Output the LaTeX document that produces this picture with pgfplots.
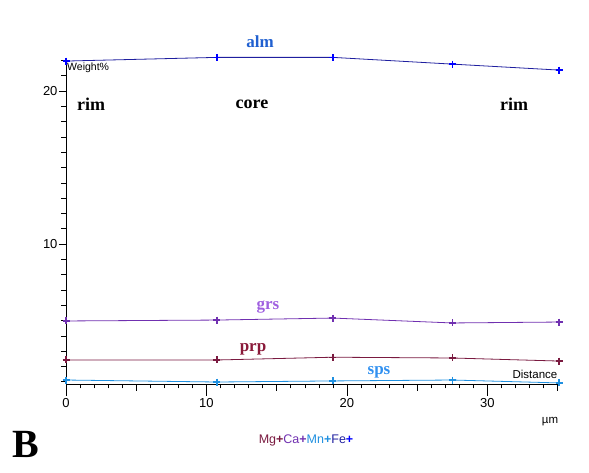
\documentclass[border=0pt]{standalone}
\usepackage{fontspec}
\setmainfont{Liberation Serif}
\setsansfont{Liberation Sans}
\usepackage{pgfplots}
\pgfplotsset{compat=1.18}

\definecolor{almline}{HTML}{1F1F9F}
\definecolor{almmark}{HTML}{0000FF}
\definecolor{almtext}{HTML}{2060D0}
\definecolor{grsline}{HTML}{7030B0}
\definecolor{grstext}{HTML}{A060E0}
\definecolor{prpline}{HTML}{7A1A40}
\definecolor{prptext}{HTML}{8A1A3A}
\definecolor{spsline}{HTML}{2090E0}
\definecolor{spstext}{HTML}{3090F0}

\begin{document}
\begin{tikzpicture}[x=1pt,y=1pt]
  \useasboundingbox (0,0) rectangle (589,473);
  \begin{axis}[
      at={(66pt,89pt)}, anchor=south west,
      scale only axis,
      width=493pt, height=326pt,
      xmin=0, xmax=35.1,
      ymin=0.85, ymax=22.16,
      axis x line*=bottom,
      axis y line*=left,
      axis line style={black, line width=0.6pt, -},
      xtick={5,15,25,35},
      xticklabels={},
      extra x ticks={0,10,20,30},
      extra x tick style={major tick length=12pt},
      minor xtick={1,2,...,35},
      ytick={10,20},
      minor ytick={1,2,...,22},
      major tick length=7pt,
      minor tick length=4.5pt,
      tick align=outside,
      tick style={black, line width=0.5pt},
      tick label style={font=\sffamily\fontsize{13}{15}\selectfont},
      yticklabel style={xshift=2pt},
      xticklabel style={yshift=1pt},
      /pgf/number format/assume math mode=true,
      clip=false,
      every axis plot/.append style={line width=0.8pt},
    ]
    % alm (Fe)
    \addplot[almline, mark=+, mark size=3.5pt, mark options={almmark, line width=1.3pt}]
      coordinates {(0,21.96) (10.75,22.2) (19.0,22.2) (27.5,21.76) (35.1,21.37)};
    % grs (Ca)
    \addplot[grsline, mark=+, mark size=3.5pt, mark options={line width=1.3pt}]
      coordinates {(0,4.97) (10.75,5.03) (19.0,5.16) (27.5,4.84) (35.1,4.9)};
    % prp (Mg)
    \addplot[prpline, mark=+, mark size=3.5pt, mark options={line width=1.3pt}]
      coordinates {(0,2.42) (10.75,2.42) (19.0,2.6) (27.5,2.55) (35.1,2.35)};
    % sps (Mn)
    \addplot[spsline, mark=+, mark size=3.5pt, mark options={line width=1.3pt}]
      coordinates {(0,1.11) (10.75,0.98) (19.0,1.05) (27.5,1.11) (35.1,0.92)};
  \end{axis}
  % axis texts
  \node[anchor=west, font=\sffamily\fontsize{10.5}{12}\selectfont, inner sep=0] at (67,405) {Weight\%};
  \node[font=\sffamily\fontsize{11.5}{13}\selectfont, inner sep=0] at (535,99) {Distance};
  \node[font=\sffamily\fontsize{11.5}{13}\selectfont, inner sep=0] at (550,51) {µm};
  % curve labels
  \node[font=\fontsize{17}{19}\selectfont\bfseries, text=almtext, inner sep=0] at (260,431) {alm};
  \node[font=\fontsize{17}{19}\selectfont\bfseries, text=grstext, inner sep=0] at (268,166) {grs};
  \node[font=\fontsize{17}{19}\selectfont\bfseries, text=prptext, inner sep=0] at (253,124) {prp};
  \node[font=\fontsize{17}{19}\selectfont\bfseries, text=spstext, inner sep=0] at (379,101) {sps};
  % position labels
  \node[font=\fontsize{18}{20}\selectfont\bfseries, inner sep=0] at (91,369) {rim};
  \node[font=\fontsize{18}{20}\selectfont\bfseries, inner sep=0] at (252,369) {core};
  \node[font=\fontsize{18}{20}\selectfont\bfseries, inner sep=0] at (514,369) {rim};
  % panel letter
  \node[font=\fontsize{40}{44}\selectfont\bfseries, inner sep=0] at (26,29) {B};
  % legend
  \node[font=\sffamily\fontsize{12.5}{14}\selectfont, inner sep=0] at (306,33)
    {\textcolor{prpline}{Mg}\textcolor{prpline}{\textbf{+}}\textcolor{grsline}{Ca}\textcolor{grsline}{\textbf{+}}\textcolor{spsline}{Mn}\textcolor{spsline}{\textbf{+}}\textcolor{almline}{Fe}\textcolor{almmark}{\textbf{+}}};
\end{tikzpicture}
\end{document}
